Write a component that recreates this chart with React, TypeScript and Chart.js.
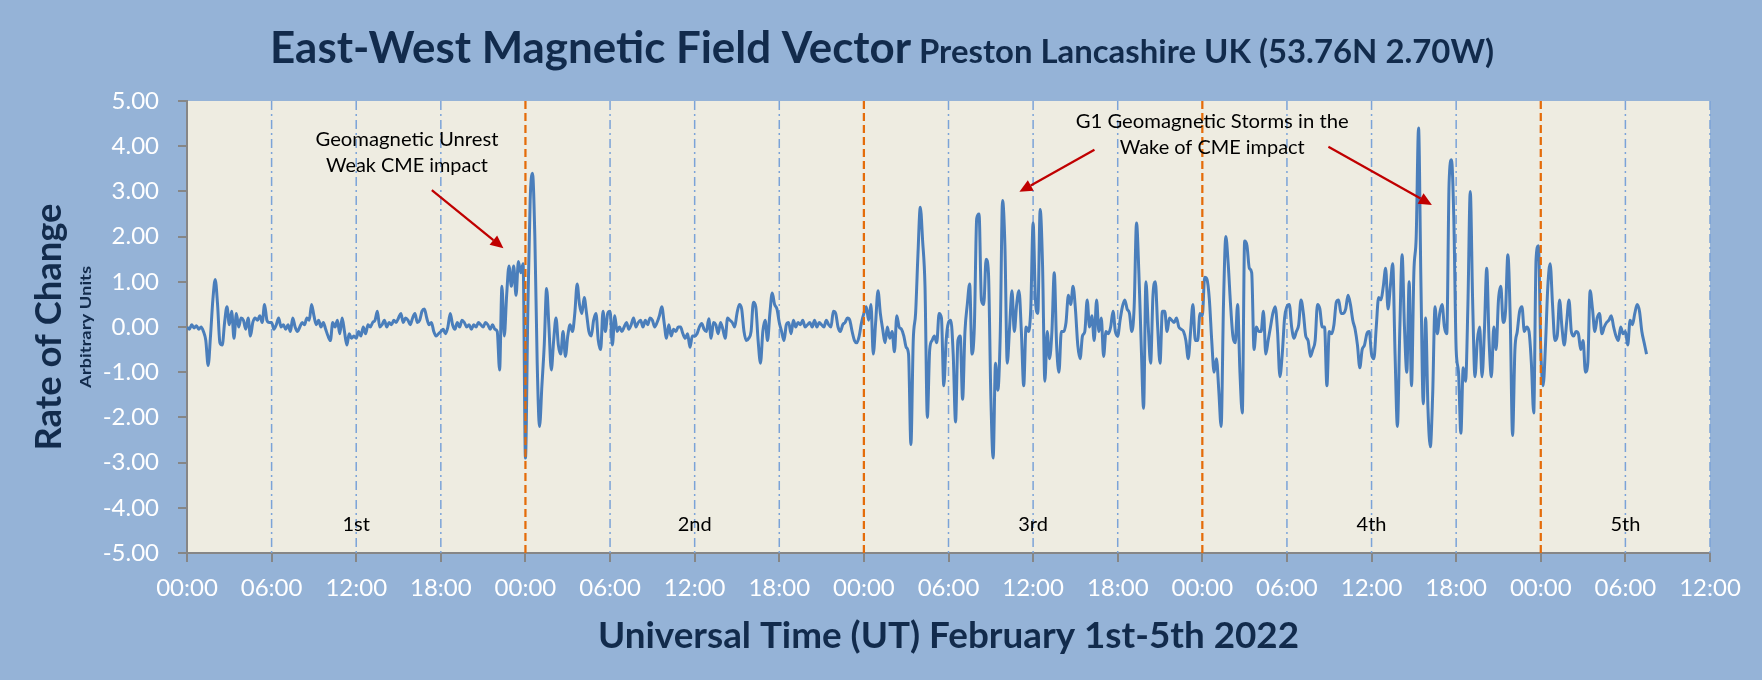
import React, { useEffect, useRef } from "react";
import { Chart, registerables } from "chart.js";

Chart.register(...registerables);

// ---------------- text ----------------
const mainTitle = "East-West Magnetic Field Vector";
const subTitle = "Preston Lancashire UK (53.76N 2.70W)";
const yAxisTitle = "Rate of Change";
const yAxisSubTitle = "Arbitrary Units";
const xAxisTitle = "Universal Time (UT) February 1st-5th 2022";

// ---------------- data ----------------
// one reading every 10 minutes starting 00:00 UT, 1 February 2022 (one row per hour)
const sampleMinutes = 10;
const fieldValues: number[] = [
  0.0, -0.05, 0.05, -0.02, 0.03, -0.05,
  0.0, -0.1, -0.3, -0.85, -0.2, 0.6,
  1.05, 0.5, -0.35, -0.4, 0.1, 0.45,
  0.05, 0.35, -0.25, 0.3, 0.0, 0.2,
  0.15, -0.05, 0.2, -0.2, 0.1, 0.2,
  0.15, 0.25, 0.1, 0.5, 0.15, 0.1,
  0.1, -0.05, 0.05, 0.2, 0.0, 0.05,
  -0.05, 0.05, -0.1, 0.2, 0.0, -0.1,
  0.0, 0.1, 0.05, 0.2, 0.15, 0.5,
  0.25, 0.05, 0.15, 0.0, 0.1, -0.05,
  -0.2, -0.3, 0.1, 0.0, 0.15, -0.15,
  0.2, -0.1, -0.4, -0.15, -0.25, -0.2,
  -0.25, -0.1, -0.2, 0.0, -0.15, 0.05,
  0.0, 0.1, 0.15, 0.35, 0.0, 0.05,
  0.15, 0.0, 0.1, 0.05, 0.15, 0.1,
  0.2, 0.3, 0.1, 0.2, 0.15, 0.05,
  0.2, 0.3, 0.1, 0.15, 0.35, 0.4,
  0.2, 0.05, 0.1, -0.1, -0.2, -0.15,
  -0.1, -0.05, -0.15, 0.0, 0.3, 0.05,
  -0.05, 0.1, 0.0, 0.15, 0.1, 0.0,
  0.05, -0.05, 0.05, 0.0, 0.1, 0.05,
  0.0, 0.1, 0.05, -0.05, 0.05, -0.05,
  -0.1, -0.95, 0.9, -0.2, 0.7, 1.35,
  0.9, 1.35, 0.7, 1.45, 1.2, 1.4,
  -2.9, 0.3, 2.8, 3.4, 2.0, -0.8,
  -2.2, -1.3, -0.4, 0.85, 0.0, -0.95,
  -0.3, 0.2, -0.4, -0.6, -0.1, -0.65,
  -0.2, 0.05, -0.1, 0.3, 0.95, 0.5,
  0.3, 0.65, 0.3, -0.1, -0.2, 0.15,
  0.3, -0.3, -0.5, 0.35, -0.1, 0.3,
  0.35, -0.4, 0.25, -0.1, 0.0, -0.1,
  0.0, 0.1, -0.05, 0.05, 0.2, 0.0,
  0.1, 0.15, 0.0, 0.15, 0.05, 0.2,
  0.15, 0.0, 0.1, 0.25, 0.45, 0.1,
  -0.25, 0.05, -0.2, -0.05, -0.1, 0.0,
  0.0, -0.15, -0.25, -0.15, -0.45, -0.2,
  -0.2, -0.15, 0.0, 0.08, -0.05, -0.1,
  0.18, -0.25, 0.1, 0.05, -0.15, 0.1,
  -0.05, -0.25, 0.2, 0.15, 0.1, 0.0,
  0.3, 0.5, 0.4, -0.1, -0.3, -0.25,
  -0.1, 0.55, 0.45, -0.3, -0.8, -0.1,
  0.15, -0.3, 0.3, 0.75, 0.5, 0.4,
  0.1, -0.1, -0.3, 0.05, 0.1, -0.15,
  0.15, 0.0, 0.1, 0.05, 0.15, 0.0,
  0.05, 0.1, 0.0, 0.15, 0.0, 0.1,
  0.05, 0.0, 0.15, 0.05, 0.0, 0.35,
  0.3, 0.0, -0.1, 0.05, 0.1, 0.2,
  0.15, -0.1, -0.3, -0.35, -0.2, 0.1,
  0.3, 0.45, 0.15, 0.5, -0.6, 0.1,
  0.8, 0.3, -0.05, -0.35, 0.0, -0.25,
  -0.1, -0.55, 0.25, 0.0, -0.05, -0.2,
  -0.45, -0.6, -2.6, -0.3, 0.3, 1.6,
  2.65, 1.9, 0.9, -2.0, -0.5, -0.3,
  -0.2, -0.35, 0.3, 0.2, -1.3, -0.3,
  0.1, 0.15, -0.6, -2.1, -0.3, -0.2,
  -1.6, -0.1, 0.5, 0.95, -0.6, 0.0,
  2.4, 2.5, 0.6, 0.5, 1.5, 1.2,
  -1.5, -2.9, -0.8, -1.4, -0.2, 2.8,
  1.8, -0.8, 0.0, 0.8, -0.1, 0.5,
  0.8, -0.1, -1.3, 0.0, -0.1, 0.4,
  2.3, 0.6, 0.3, 2.6, 1.4, -1.2,
  -0.1, -0.7, -0.1, 1.2, -0.4, -1.0,
  -0.1, -0.1, 0.1, 0.7, 0.5, 0.9,
  0.4, -0.4, -0.7, -0.2, -0.1, 0.6,
  0.0, 0.25, -0.3, 0.6, -0.1, 0.2,
  -0.65, -0.1, -0.15, 0.0, 0.35, -0.1,
  -0.2, 0.15, 0.45, 0.6, 0.4, 0.3,
  -0.1, 0.45, 2.3, 1.2, -0.4, -1.8,
  1.0, 0.0, -0.8, 0.7, 1.0, 0.0,
  -0.8, 0.35, 0.35, -0.1, 0.2, 0.15,
  0.1, 0.2, 0.0, -0.05, -0.1, -0.3,
  -0.7, -0.1, 0.5, -0.3, -0.3, 0.3,
  0.25, 1.1, 1.05, 0.6, -0.3, -1.0,
  -0.7, -1.4, -2.2, 0.5, 2.0, 1.4,
  0.5, -0.2, -0.35, 0.5, -1.0, -1.9,
  1.9, 1.8, 1.3, 1.2, -0.5, 0.0,
  -0.1, -0.1, 0.35, -0.6, -0.3, 0.0,
  0.3, 0.45, -0.1, -1.1, -0.6, 0.2,
  0.45, 0.5, 0.0, -0.25, -0.1, 0.05,
  0.6, 0.3, -0.2, -0.3, -0.65, -0.5,
  -0.3, 0.5, 0.4, 0.0, 0.0, -1.3,
  -0.1, -0.15, 0.05, 0.55, 0.6, 0.3,
  0.3, 0.4, 0.7, 0.5, 0.15, -0.05,
  -0.4, -0.9, -0.5, -0.4, -0.15, -0.1,
  -0.6, -0.7, 0.0, 0.65, 0.6, 0.9,
  1.3, 0.4, 0.9, 1.4, -0.6, -2.2,
  -0.1, 1.6, 0.0, -1.0, 1.0, -1.3,
  1.2, 2.0, 4.4, 1.0, -1.7, 0.2,
  -1.8, -2.65, -1.5, 0.45, -0.15, 0.3,
  0.5, 0.0, -0.15, 3.2, 3.7, 2.4,
  -0.5, -1.0, -2.35, -0.9, -1.2, 0.5,
  3.0, 0.6, -1.1, -0.3, 0.0, -1.1,
  -0.1, 1.3, -0.3, -1.1, 0.0, -0.5,
  0.6, 0.9, 0.1, 0.35, 1.6, 0.2,
  -2.4, -0.5, -0.1, 0.35, 0.45, -0.1,
  0.0, -0.1, -0.8, -1.9, 1.5, 1.8,
  -0.5, -1.3, -0.4, 0.9, 1.4, 0.5,
  -0.3, -0.2, 0.6, 0.0, -0.4, 0.1,
  0.6, -0.1, -0.2, -0.1, -0.15, -0.5,
  -0.3, -1.0, -0.8, 0.8, 0.4, -0.1,
  0.2, 0.3, -0.15, 0.0, 0.1, 0.15,
  0.25, 0.0, -0.2, -0.3, 0.0, -0.15,
  -0.1, -0.4, 0.15, 0.05, 0.3, 0.5,
  0.35, -0.1, -0.35, -0.6,
];

const xTickLabels = [
  "00:00", "06:00", "12:00", "18:00",
  "00:00", "06:00", "12:00", "18:00",
  "00:00", "06:00", "12:00", "18:00",
  "00:00", "06:00", "12:00", "18:00",
  "00:00", "06:00", "12:00",
];
const xMaxHours = 108;
const xStepHours = 6;
const yMin = -5;
const yMax = 5;
const yStep = 1;

const dayLabels = ["1st", "2nd", "3rd", "4th", "5th"];
const dayLabelHours = [12, 36, 60, 84, 102];
const dayLabelValue = -4.52;

const noteLines = [
  ["Geomagnetic Unrest", "Weak CME impact"],
  ["G1 Geomagnetic Storms in the", "Wake of CME impact"],
];
const noteAnchorHours = [15.6, 72.7];
const noteAnchorValues = [
  [4.01, 3.42],
  [4.41, 3.82],
];
const arrowFrom = [
  [17.36, 3.03],
  [64.35, 3.92],
  [80.94, 3.99],
];
const arrowTo = [
  [22.44, 1.74],
  [59.03, 2.99],
  [88.28, 2.7],
];

// ---------------- styles ----------------
const C = {
  page: "#95B3D7",
  plot: "#EEECE1",
  line: "#4A7EBB",
  navy: "#122B4C",
  axis: "#868686",
  grid: "#7BA3D8",
  midnight: "#E46C0A",
  arrow: "#C00000",
};
const FONT = "Lato, 'Open Sans', sans-serif";
const noteWidths = [
  [183, 162],
  [273, 185],
];

function fitText(
  ctx: CanvasRenderingContext2D,
  text: string,
  x: number,
  y: number,
  font: string,
  color: string,
  targetWidth: number | null,
  align: CanvasTextAlign
) {
  ctx.save();
  ctx.font = font;
  ctx.fillStyle = color;
  ctx.textBaseline = "alphabetic";
  ctx.textAlign = align;
  const w = ctx.measureText(text).width;
  const sx = targetWidth ? targetWidth / w : 1;
  ctx.translate(x, y);
  ctx.scale(sx, 1);
  ctx.fillText(text, 0, 0);
  ctx.restore();
}

function drawArrow(
  ctx: CanvasRenderingContext2D,
  x1: number,
  y1: number,
  x2: number,
  y2: number
) {
  const ang = Math.atan2(y2 - y1, x2 - x1);
  const head = 13;
  const half = 6;
  const bx = x2 - head * Math.cos(ang);
  const by = y2 - head * Math.sin(ang);
  ctx.save();
  ctx.strokeStyle = C.arrow;
  ctx.fillStyle = C.arrow;
  ctx.lineWidth = 2.25;
  ctx.beginPath();
  ctx.moveTo(x1, y1);
  ctx.lineTo(bx, by);
  ctx.stroke();
  ctx.beginPath();
  ctx.moveTo(x2, y2);
  ctx.lineTo(bx + half * Math.sin(ang), by - half * Math.cos(ang));
  ctx.lineTo(bx - half * Math.sin(ang), by + half * Math.cos(ang));
  ctx.closePath();
  ctx.fill();
  ctx.restore();
}

const decorPlugin = {
  id: "decor",
  beforeDraw(chart: any) {
    const { ctx, chartArea: a } = chart;
    ctx.save();
    ctx.fillStyle = C.page;
    ctx.fillRect(0, 0, chart.width, chart.height);
    ctx.fillStyle = C.plot;
    ctx.fillRect(a.left, a.top, a.right - a.left, a.bottom - a.top);
    ctx.restore();
  },
  beforeDatasetsDraw(chart: any) {
    const { ctx, chartArea: a, scales } = chart;
    const xs = scales.x;
    ctx.save();
    ctx.strokeStyle = C.grid;
    ctx.lineWidth = 1.5;
    ctx.setLineDash([9, 4, 2, 4]);
    xs.ticks.forEach((t: any) => {
      const v = t.value;
      if (v === 0 || v % 24 === 0) return;
      const px = xs.getPixelForValue(v);
      ctx.beginPath();
      ctx.moveTo(px, a.top);
      ctx.lineTo(px, a.bottom);
      ctx.stroke();
    });
    ctx.restore();
  },
  afterDatasetsDraw(chart: any) {
    const { ctx, chartArea: a, scales } = chart;
    const xs = scales.x;
    ctx.save();
    ctx.strokeStyle = C.midnight;
    ctx.lineWidth = 2.25;
    ctx.setLineDash([8, 4]);
    xs.ticks.forEach((t: any) => {
      const v = t.value;
      if (v === 0 || v % 24 !== 0) return;
      const px = xs.getPixelForValue(v);
      ctx.beginPath();
      ctx.moveTo(px, a.top);
      ctx.lineTo(px, a.bottom);
      ctx.stroke();
    });
    ctx.restore();
  },
  afterDraw(chart: any) {
    const { ctx, chartArea: a, scales } = chart;
    const xs = scales.x;
    const ys = scales.y;

    // titles
    fitText(ctx, mainTitle, 270, 63, `bold 44px ${FONT}`, C.navy, 641, "left");
    fitText(ctx, subTitle, 919, 63, `bold 33px ${FONT}`, C.navy, 575, "left");

    // x axis title
    fitText(ctx, xAxisTitle, (a.left + a.right) / 2, 648, `bold 36px ${FONT}`, C.navy, 701, "center");

    // y axis titles (rotated)
    const yMid = ys.getPixelForValue(0);
    ctx.save();
    ctx.translate(61, yMid);
    ctx.rotate(-Math.PI / 2);
    fitText(ctx, yAxisTitle, 0, 0, `bold 36px ${FONT}`, C.navy, 247, "center");
    ctx.restore();
    ctx.save();
    ctx.translate(91, yMid);
    ctx.rotate(-Math.PI / 2);
    fitText(ctx, yAxisSubTitle, 0, 0, `bold 15px ${FONT}`, C.navy, 122, "center");
    ctx.restore();

    // day labels
    dayLabels.forEach((lab, i) => {
      fitText(
        ctx,
        lab,
        xs.getPixelForValue(dayLabelHours[i]),
        ys.getPixelForValue(dayLabelValue),
        `20px ${FONT}`,
        "#000000",
        null,
        "center"
      );
    });

    // notes
    noteLines.forEach((lines, i) => {
      lines.forEach((ln, j) => {
        fitText(
          ctx,
          ln,
          xs.getPixelForValue(noteAnchorHours[i]),
          ys.getPixelForValue(noteAnchorValues[i][j]),
          `20px ${FONT}`,
          "#000000",
          noteWidths[i][j],
          "center"
        );
      });
    });

    // arrows
    arrowFrom.forEach((f, i) => {
      const t = arrowTo[i];
      drawArrow(
        ctx,
        xs.getPixelForValue(f[0]),
        ys.getPixelForValue(f[1]),
        xs.getPixelForValue(t[0]),
        ys.getPixelForValue(t[1])
      );
    });
  },
};

export default function App() {
  const ref = useRef<HTMLCanvasElement | null>(null);

  useEffect(() => {
    document.body.style.margin = "0";
    const canvas = ref.current;
    if (!canvas) return;
    const points = fieldValues.map((v, i) => ({ x: (i * sampleMinutes) / 60, y: v }));

    const chart = new Chart(canvas, {
      type: "line",
      data: {
        datasets: [
          {
            label: "East-West",
            data: points,
            borderColor: C.line,
            borderWidth: 3,
            pointRadius: 0,
            pointHoverRadius: 0,
            fill: false,
            cubicInterpolationMode: "monotone",
          },
        ],
      },
      options: {
        responsive: false,
        animation: false,
        devicePixelRatio: 1,
        layout: { padding: { left: 0, top: 101, right: 52, bottom: 0 } },
        plugins: {
          legend: { display: false },
          title: { display: false },
          tooltip: { enabled: false },
        },
        scales: {
          x: {
            type: "linear",
            min: 0,
            max: xMaxHours,
            grid: {
              drawOnChartArea: false,
              drawTicks: true,
              tickLength: 9,
              color: C.axis,
              lineWidth: 2,
            },
            border: { display: true, color: C.axis, width: 2 },
            ticks: {
              stepSize: xStepHours,
              autoSkip: false,
              maxRotation: 0,
              minRotation: 0,
              padding: 12,
              color: "#FFFFFF",
              font: { family: FONT, size: 24 },
              callback: (v: any) => xTickLabels[Math.round(Number(v) / xStepHours)] ?? "",
            },
            afterFit: (s: any) => {
              s.height = 127;
            },
          },
          y: {
            type: "linear",
            min: yMin,
            max: yMax,
            grid: {
              drawOnChartArea: false,
              drawTicks: true,
              tickLength: 9,
              color: C.axis,
              lineWidth: 2,
            },
            border: { display: true, color: C.axis, width: 2 },
            ticks: {
              stepSize: yStep,
              padding: 19,
              color: "#FFFFFF",
              font: { family: FONT, size: 24 },
              callback: (v: any) => Number(v).toFixed(2),
            },
            afterFit: (s: any) => {
              s.width = 187;
            },
          },
        },
      },
      plugins: [decorPlugin],
    });
    return () => chart.destroy();
  }, []);

  return (
    <div style={{ position: "absolute", left: 0, top: 0, width: 1762, height: 680, background: C.page }}>
      <canvas ref={ref} width={1762} height={680} style={{ display: "block" }} />
    </div>
  );
}
